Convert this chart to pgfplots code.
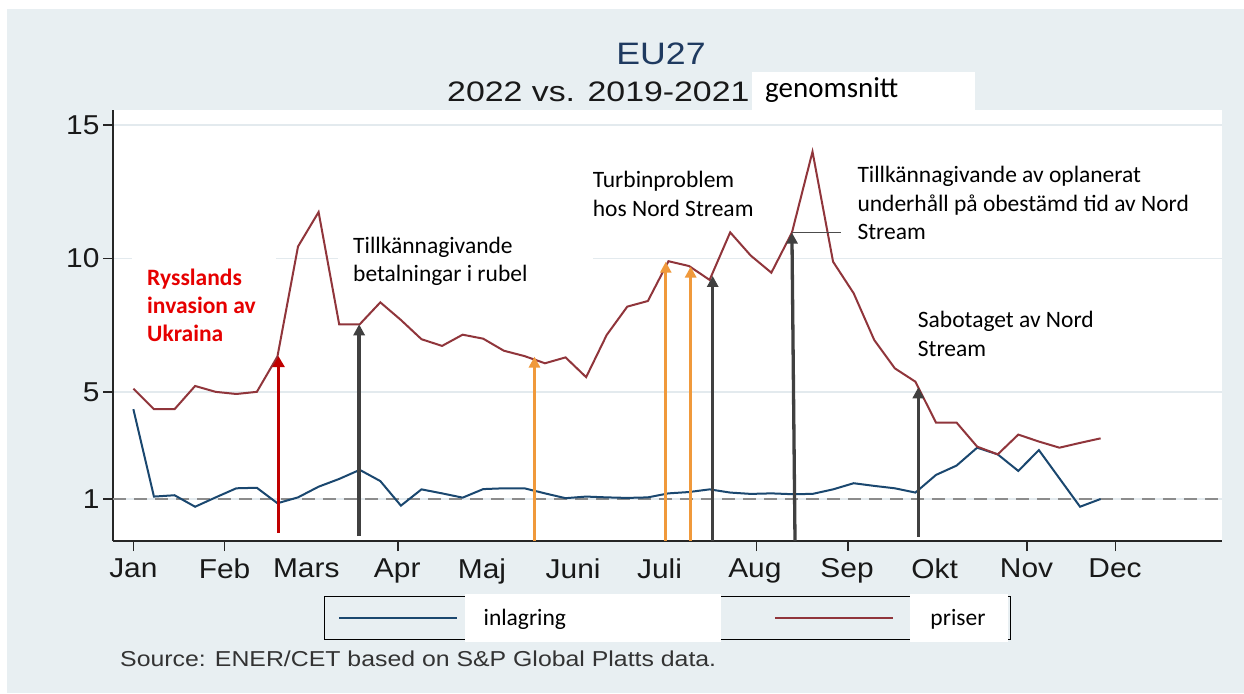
\documentclass[border=0pt]{standalone}
\usepackage{fontspec}
\setmainfont{Liberation Sans}
\newfontfamily\carl{Carlito}
\usepackage{graphicx}
\usepackage{pgfplots}
\usepackage{pgfplotstable}
\pgfplotsset{compat=1.18}
\usetikzlibrary{arrows.meta}
\definecolor{bg}{HTML}{E8EFF2}
\definecolor{navy}{HTML}{1A476F}
\definecolor{maroon}{HTML}{90353B}
\definecolor{arrred}{HTML}{C00000}
\definecolor{arrgray}{HTML}{404040}
\definecolor{arrorange}{HTML}{F0993B}
\definecolor{gridc}{HTML}{E3EAEE}
\definecolor{titlec}{HTML}{1F3A60}
\definecolor{annred}{HTML}{E60000}
\newcommand\sx[1]{\scalebox{1.15}[1.05]{#1}}
\newcommand\tickfont{\fontsize{26}{30}\selectfont}
\newcommand\annfont{\carl\fontsize{23.5}{28}\selectfont}

\pgfplotstableread{
w inl pri
0 4.36 5.13
1 1.09 4.36
2 1.14 4.36
3 0.71 5.23
4 1.06 5.01
5 1.40 4.93
6 1.42 5.01
7 0.84 6.33
8 1.06 10.45
9 1.46 11.74
10 1.75 7.54
11 2.09 7.54
12 1.67 8.36
13 0.75 7.70
14 1.36 6.98
15 1.21 6.73
16 1.05 7.15
17 1.37 7.00
18 1.40 6.55
19 1.40 6.35
20 1.21 6.08
21 1.03 6.30
22 1.09 5.56
23 1.06 7.14
24 1.04 8.20
25 1.06 8.41
26 1.21 9.90
27 1.26 9.72
28 1.36 9.20
29 1.24 10.98
30 1.19 10.11
31 1.21 9.47
32 1.18 10.97
33 1.19 14.00
34 1.36 9.88
35 1.59 8.70
36 1.49 6.95
37 1.40 5.89
38 1.24 5.39
39 1.90 3.86
40 2.25 3.86
41 2.92 2.96
42 2.67 2.67
43 2.05 3.41
44 2.83 3.15
45 1.77 2.92
46 0.71 3.10
47 1.00 3.27
}\data

\begin{document}
\begin{tikzpicture}[x=1pt,y=1pt]
\path[use as bounding box] (0,0) rectangle (1244,-693);
\fill[white] (0,0) rectangle (1244,-693);
\fill[bg] (7,-9) rectangle (1244,-693);
\fill[white] (752,-72) rectangle (975,-112);
% legend frame
\draw[black, line width=1pt] (324.5,-596) rectangle (1010,-639.5);
\fill[white] (465,-594) rectangle (721,-642);
\fill[white] (910,-594) rectangle (1008,-642);

\begin{axis}[
  at={(113pt,-541pt)}, anchor=south west,
  scale only axis, width=1109pt, height=431pt,
  xmin=-0.99, xmax=52.9, ymin=-0.573, ymax=15.56,
  axis lines*=left,
  axis background/.style={fill=white},
  axis line style={line width=1.5pt, color=black!85},
  tick align=outside,
  major tick length=10pt,
  xtick={0,4.43,8.4,12.82,16.94,21.37,25.57,30.2,34.68,38.93,43.4,47.7},
  xticklabels={\sx{Jan},\sx{Feb},\sx{Mars},\sx{Apr},\sx{Maj},\sx{Juni},\sx{Juli},\sx{Aug},\sx{Sep},\sx{Okt},\sx{Nov},\sx{Dec}},
  xtick style={draw=none},
  extra x ticks={0,4.4286,12.857,30.286,34.714,43.429,47.714},
  extra x tick labels={},
  extra x tick style={xtick style={draw=black!85, line width=1.5pt}, xmajorgrids=false},
  ytick={1,5,10,15},
  yticklabels={\sx{1},\sx{5},\sx{10},\sx{15}},
  ytick style={draw=black!85, line width=1.5pt},
  ymajorgrids,
  grid style={gridc, line width=1.5pt},
  xticklabel style={font=\tickfont, text=black!90, yshift=-4pt},
  yticklabel style={font=\tickfont, text=black!90},
  legend columns=2,
  legend style={at={(axis description cs:0.2029,-0.178)}, anchor=west, draw=none, fill=none,
    inner sep=0pt, outer sep=0pt, font=\annfont, nodes={inner sep=0pt},
    /tikz/every even column/.append style={column sep=0pt}},
  legend image code/.code={\draw[#1] (0pt,0pt) -- (118pt,0pt);},
  legend cell align=left,
]
\fill[white] (axis cs:-0.06,6.58) rectangle (axis cs:6.93,10.13);
\fill[white] (axis cs:9.95,8.56) rectangle (axis cs:22.34,11.26);
\addplot[black!45, dash pattern=on 13pt off 8pt, line width=1.5pt, forget plot] coordinates {(-0.99,1) (52.9,1)};
\addplot[navy, line width=2pt] table[x=w,y=inl]{\data};
\addlegendentry{\hspace*{25.6pt}inlagring\hspace*{208pt}}
\addplot[maroon, line width=2pt] table[x=w,y=pri]{\data};
\addlegendentry{\hspace*{36.4pt}priser}
% event arrows
\addplot[arrred, line width=3.6pt, -{Triangle[width=12pt,length=11pt]}, forget plot] coordinates {(7.05,-0.27) (7.05,6.35)};
\addplot[arrgray, line width=3.3pt, -{Triangle[width=11pt,length=11pt]}, forget plot] coordinates {(10.97,-0.39) (10.97,7.54)};
\addplot[arrorange, line width=3.3pt, -{Triangle[width=11pt,length=11pt]}, forget plot] coordinates {(19.49,-0.57) (19.49,6.33)};
\addplot[arrorange, line width=3.3pt, -{Triangle[width=11pt,length=11pt]}, forget plot] coordinates {(25.87,-0.57) (25.87,9.88)};
\addplot[arrorange, line width=3.3pt, -{Triangle[width=11pt,length=11pt]}, forget plot] coordinates {(27.08,-0.57) (27.08,9.70)};
\addplot[arrgray, line width=3.3pt, -{Triangle[width=11pt,length=11pt]}, forget plot] coordinates {(28.15,-0.57) (28.15,9.35)};
\addplot[arrgray, line width=3.3pt, -{Triangle[width=11pt,length=11pt]}, forget plot] coordinates {(32.15,-0.57) (32.0,10.97)};
\addplot[black!70, line width=0.8pt, forget plot] coordinates {(32.0,10.97) (34.37,10.97)};
\addplot[arrgray, line width=3.3pt, -{Triangle[width=11pt,length=11pt]}, forget plot] coordinates {(38.14,-0.41) (38.14,5.18)};
\end{axis}

% titles
\node[anchor=base, inner sep=0, text=titlec, font=\fontsize{31}{36}\selectfont] at (661,-64) {\scalebox{1.15}[1]{EU27}};
\node[anchor=base west, inner sep=0, text=black!90, font=\fontsize{28.2}{32}\selectfont] at (447,-101) {\scalebox{1.2}[1]{2022 vs. 2019-2021}};
\node[anchor=base west, inner sep=0, text=black, font=\carl\fontsize{29}{34}\selectfont] at (765,-97) {genomsnitt};

% annotations
\node[anchor=base west, inner sep=0, font=\annfont] at (353,-253) {Tillkännagivande};
\node[anchor=base west, inner sep=0, font=\annfont] at (353,-281.5) {betalningar i rubel};
\node[anchor=base west, inner sep=0, font=\annfont\bfseries, text=annred] at (147,-285) {Rysslands};
\node[anchor=base west, inner sep=0, font=\annfont\bfseries, text=annred] at (147,-313.3) {invasion av};
\node[anchor=base west, inner sep=0, font=\annfont\bfseries, text=annred] at (147,-341.7) {Ukraina};
\node[anchor=base west, inner sep=0, font=\annfont] at (592.7,-187.3) {Turbinproblem};
\node[anchor=base west, inner sep=0, font=\annfont] at (592.7,-216) {hos Nord Stream};
\node[anchor=base west, inner sep=0, font=\annfont] at (857.3,-182.7) {Tillkännagivande av oplanerat};
\node[anchor=base west, inner sep=0, font=\annfont] at (857.3,-211) {underhåll på obestämd tid av Nord};
\node[anchor=base west, inner sep=0, font=\annfont] at (857.3,-239.3) {Stream};
\node[anchor=base west, inner sep=0, font=\annfont] at (917.7,-327.7) {Sabotaget av Nord};
\node[anchor=base west, inner sep=0, font=\annfont] at (917.7,-356) {Stream};

% source
\node[anchor=base west, inner sep=0, text=black!80, font=\fontsize{21.6}{26}\selectfont] at (120,-666) {\scalebox{1.15}[1]{Source: ENER/CET based on S\&P Global Platts data.}};
\end{tikzpicture}
\end{document}
